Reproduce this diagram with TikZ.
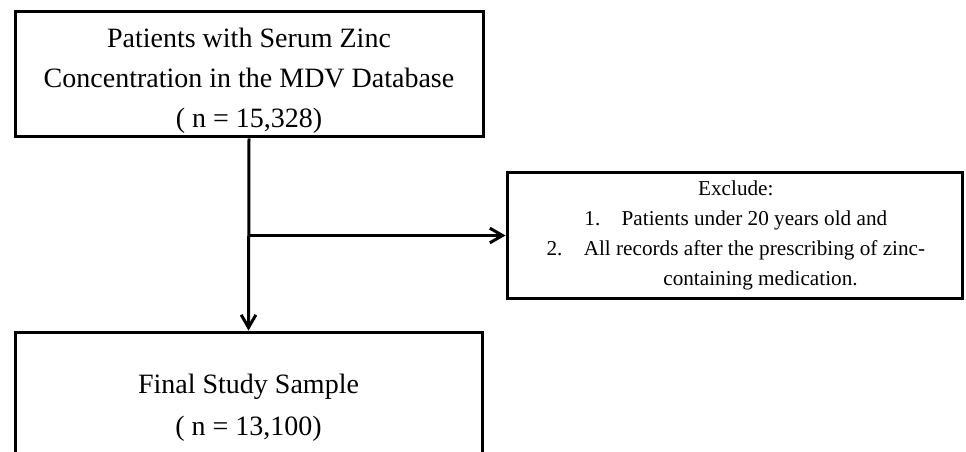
\documentclass[tikz,border=0pt]{standalone}
\usepackage{fontspec}
\setmainfont{Liberation Serif}
\usetikzlibrary{arrows.meta}

\begin{document}
\begin{tikzpicture}[
    x=0.75pt, y=-0.75pt,
    box/.style={draw=black, line width=2.25pt, inner sep=0pt},
    label/.style={inner sep=0pt, align=center},
    bigtext/.style={font=\fontsize{21}{30}\selectfont},
    smalltext/.style={font=\fontsize{15.9}{22.5}\selectfont},
    arr/.style={line width=2.25pt, -{Straight Barb[length=9.5pt, width=11pt]}}
  ]
  \useasboundingbox (0,0) rectangle (966,452);
  \clip (0,0) rectangle (966,452);

  % source population
  \node[box, minimum width=351pt, minimum height=93.75pt] (src) at (249,74.5) {};
  \node[label, bigtext] (srctext) at ([yshift=-4.5pt]src.center)
    {Patients with Serum Zinc\\Concentration in the MDV Database\\( n = 15,328)};

  % exclusion criteria
  \node[box, minimum width=341.25pt, minimum height=93.75pt] (excl) at (734.5,235.5) {};
  \node[label, smalltext] (excltext) at ([xshift=1pt]excl.center)
    {Exclude:\\
     1.\hspace*{16pt}Patients under 20 years old and\\
     2.\hspace*{16pt}All records after the prescribing of zinc-\\
     \hspace*{37pt}containing medication.};

  % final sample (box runs past the lower edge)
  \node[box, minimum width=350.25pt, minimum height=99pt] (final) at (248.5,398) {};
  \node[label, font=\fontsize{21}{31.5}\selectfont] (finaltext) at ([yshift=-7pt]final.center)
    {Final Study Sample\\( n = 13,100)};

  % connectors
  \coordinate (split) at (src.south |- excl.west);
  \draw[arr] (src.south) -- (final.north);
  \draw[arr] (split) -- (excl.west);
\end{tikzpicture}
\end{document}
